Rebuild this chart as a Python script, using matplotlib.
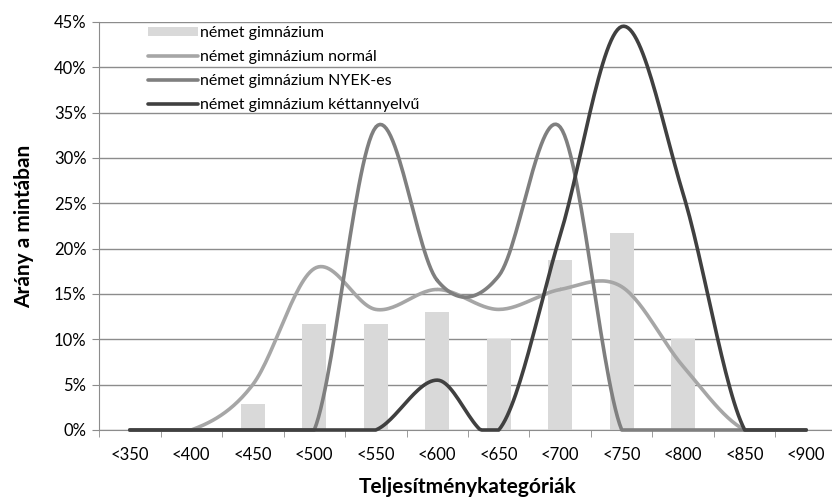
import numpy as np
import matplotlib
matplotlib.use("Agg")
import matplotlib.pyplot as plt
from matplotlib.ticker import FixedLocator, PercentFormatter

plt.rcParams['font.family'] = ['Lato', 'DejaVu Sans']

# Data (values in %)
categories = ["<350", "<400", "<450", "<500", "<550", "<600",
              "<650", "<700", "<750", "<800", "<850", "<900"]
nemet_gimn = [0, 0, 2.9, 11.7, 11.7, 13.0, 10.0, 18.7, 21.7, 10.0, 0, 0]
normal = [0, 0, 5.0, 17.8, 13.3, 15.5, 13.3, 15.5, 15.8, 7.0, 0, 0]
nyek = [0, 0, 0, 0, 33.4, 16.5, 17.0, 33.4, 0, 0, 0, 0]
kettannyelvu = [0, 0, 0, 0, 0, 5.5, 0, 21.5, 44.5, 26.0, 0, 0]


# Excel-style smoothed line (Catmull-Rom through the points)
def smooth(x, y, n=30):
    x = np.asarray(x, float)
    y = np.asarray(y, float)
    px = np.concatenate([[x[0]], x, [x[-1]]])
    py = np.concatenate([[y[0]], y, [y[-1]]])
    xs, ys = [], []
    t = np.linspace(0, 1, n)
    for i in range(1, len(px) - 2):
        for arr, a in ((ys, py), (xs, px)):
            a0, a1, a2, a3 = a[i - 1], a[i], a[i + 1], a[i + 2]
            arr.append(0.5 * ((2 * a1) + (-a0 + a2) * t
                              + (2 * a0 - 5 * a1 + 4 * a2 - a3) * t ** 2
                              + (-a0 + 3 * a1 - 3 * a2 + a3) * t ** 3))
    return np.concatenate(xs), np.concatenate(ys)


fig = plt.figure(figsize=(8.32, 5), dpi=100)
# the plot area runs a little past the right edge, as in the original
ax = fig.add_axes([0.119, 0.14, 0.887, 0.816])

x = np.arange(len(categories))

ax.yaxis.grid(True, color="#8c8c8c", linewidth=1)
ax.set_axisbelow(True)

ax.bar(x, nemet_gimn, width=0.39, color="#d9d9d9", label="német gimnázium", zorder=2)

series = [(normal, "#a6a6a6", "német gimnázium normál"),
          (nyek, "#7f7f7f", "német gimnázium NYEK-es"),
          (kettannyelvu, "#404040", "német gimnázium kéttannyelvű")]
for vals, col, lab in series:
    sx, sy = smooth(x, vals)
    sy = np.clip(sy, 0, None)
    ax.plot(sx, sy, color=col, linewidth=2.6, label=lab, zorder=3,
            clip_on=False, solid_capstyle="round")

ax.set_xlim(-0.5, len(categories) - 0.5)
ax.set_ylim(0, 45)
ax.set_yticks(np.arange(0, 46, 5))
ax.yaxis.set_major_formatter(PercentFormatter(decimals=0))

ax.set_xticks(x)
ax.set_xticklabels(categories)
ax.xaxis.set_minor_locator(FixedLocator(np.arange(-0.5, len(categories), 1)))
ax.tick_params(axis="x", which="major", length=0, pad=12, labelsize=12, colors="#000000")
ax.tick_params(axis="x", which="minor", length=5, color="#8c8c8c", direction="out")
ax.tick_params(axis="y", length=5, color="#8c8c8c", labelsize=12, pad=4)

for side in ["top", "right"]:
    ax.spines[side].set_visible(False)
for side in ["left", "bottom"]:
    ax.spines[side].set_color("#8c8c8c")

ax.set_xlabel("Teljesítménykategóriák", fontsize=15, fontweight="bold", labelpad=10)
ax.set_ylabel("Arány a mintában", fontsize=15, fontweight="bold", labelpad=14)

handles, labels = ax.get_legend_handles_labels()
order = [3, 0, 1, 2]
ax.legend([handles[i] for i in order], [labels[i] for i in order],
          loc="upper left", bbox_to_anchor=(148 / 832, 1 - 26 / 500),
          bbox_transform=fig.transFigure, frameon=False, fontsize=11.5,
          handlelength=3.1, handleheight=0.5, handletextpad=0.15,
          labelspacing=0.62, borderaxespad=0, borderpad=0)

fig.savefig("out.png", dpi=100)
